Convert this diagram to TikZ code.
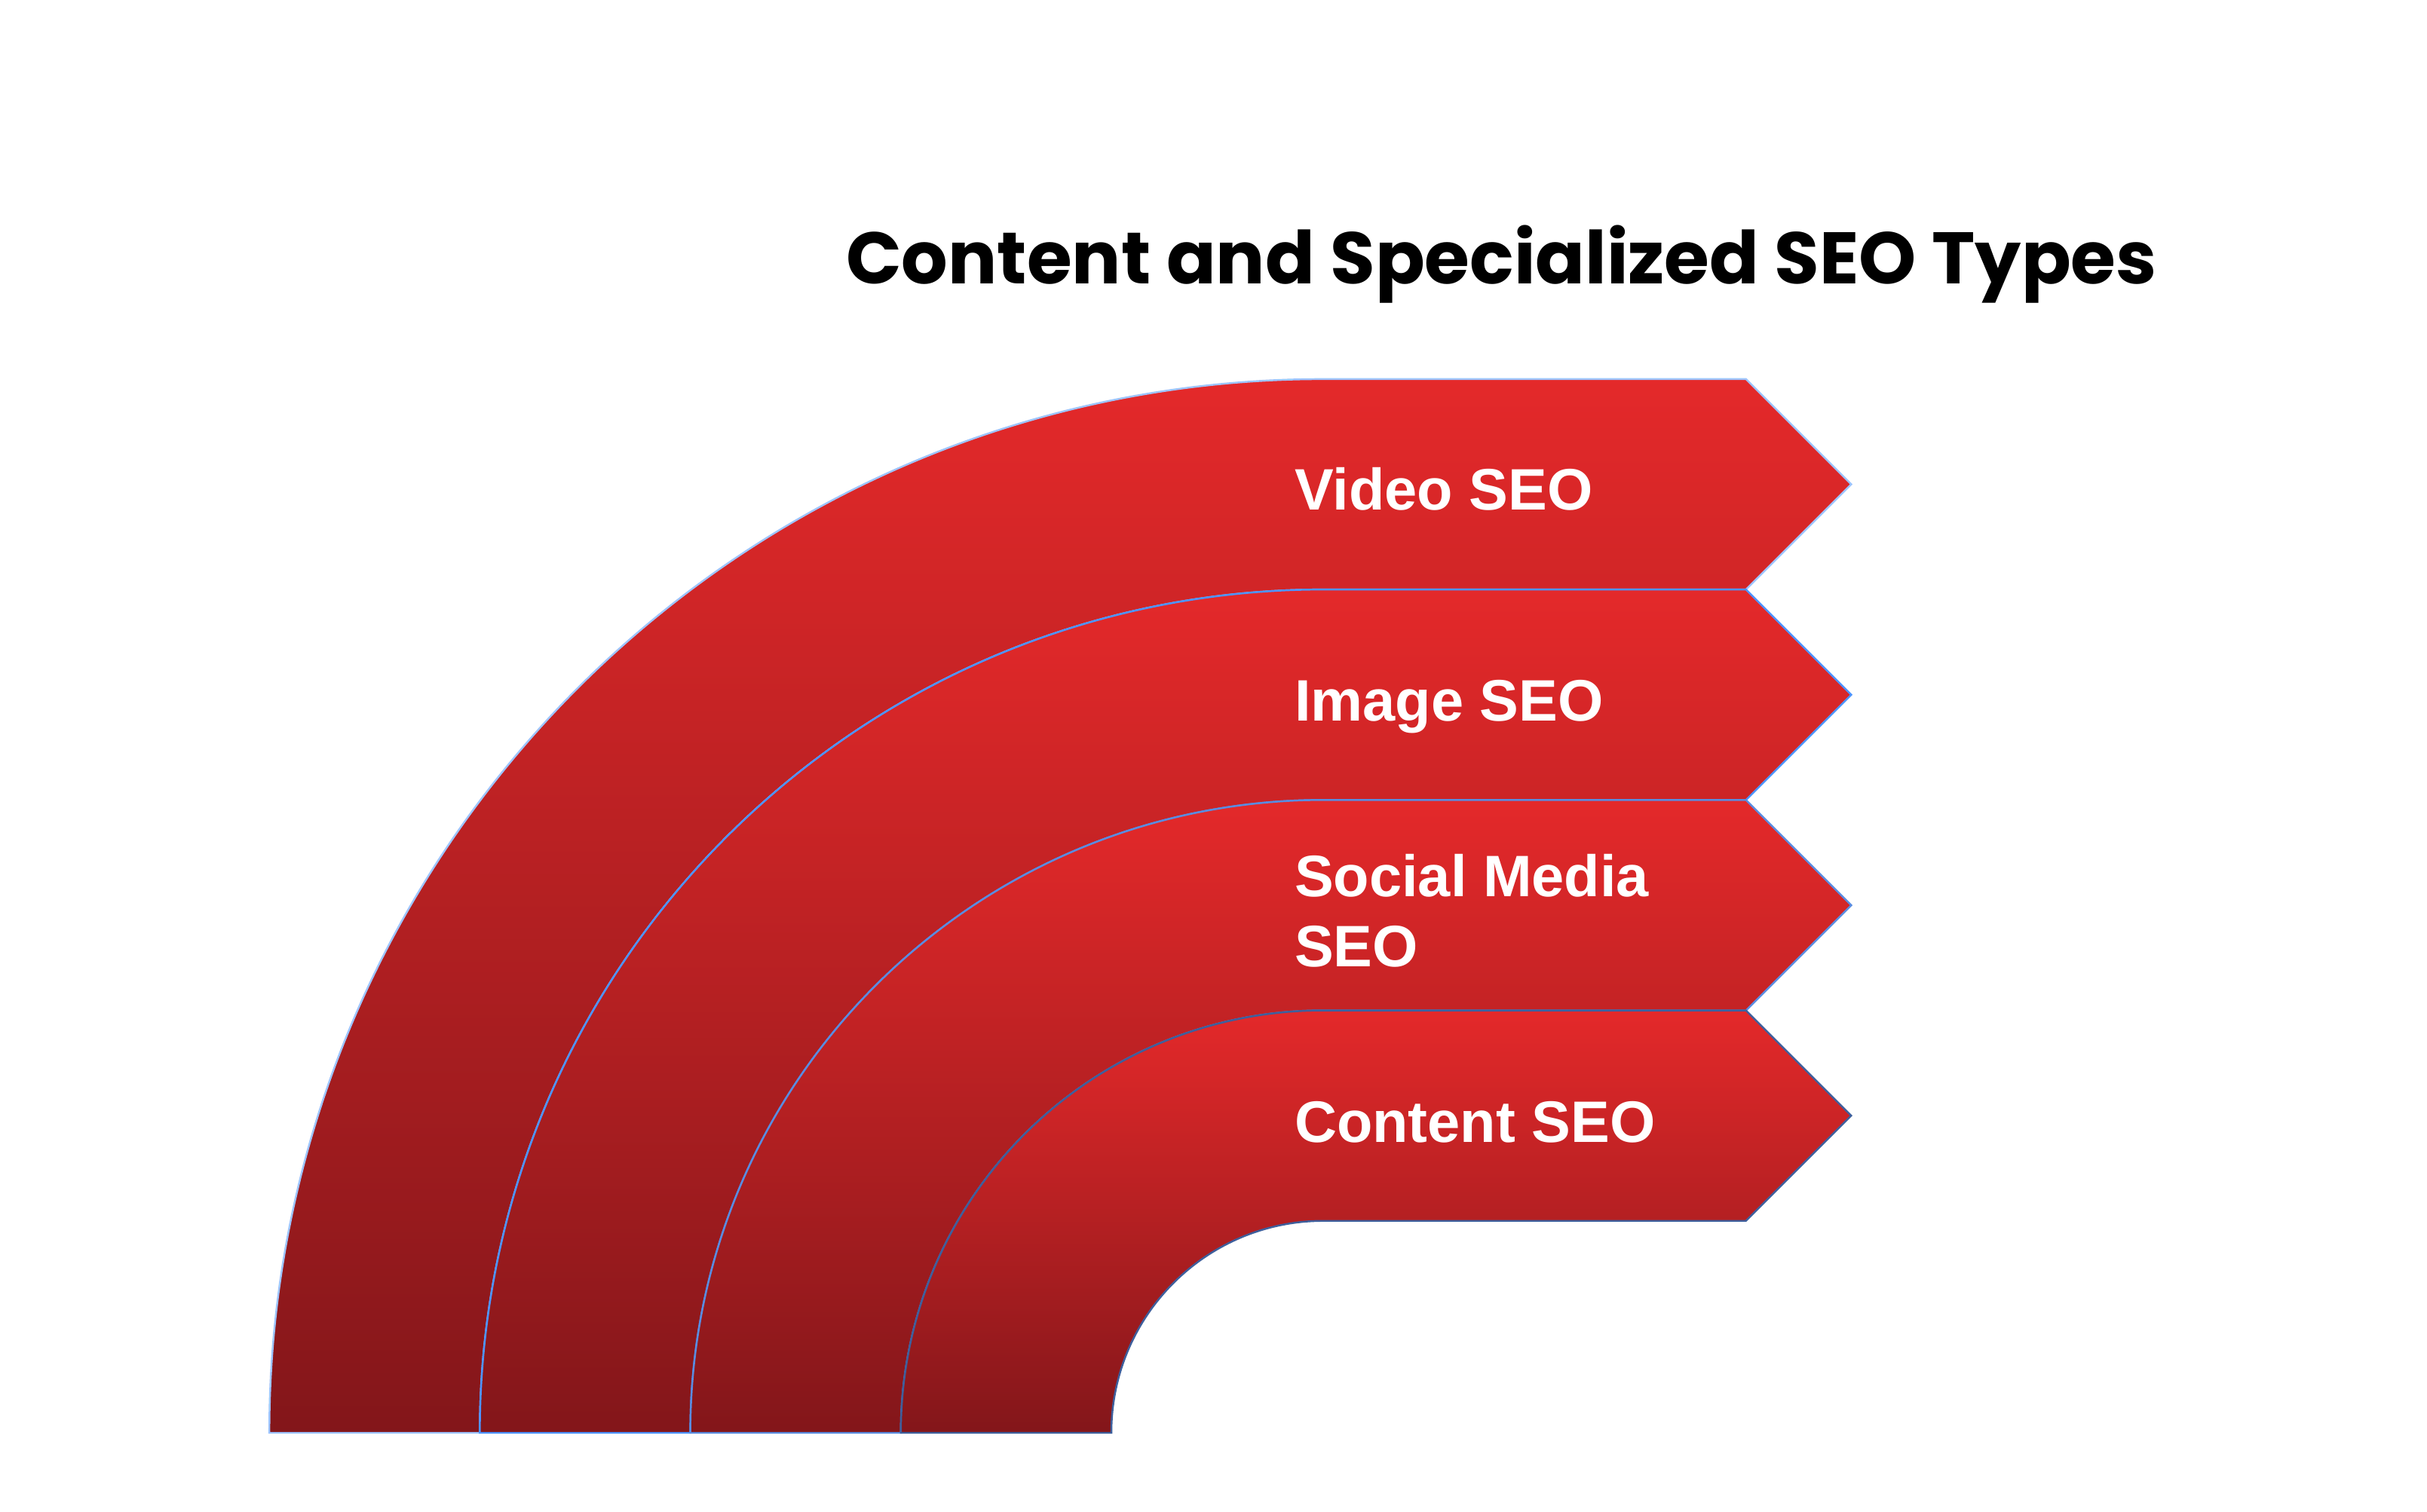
\documentclass[tikz,border=0pt]{standalone}
\usepackage{fontspec}
\setmainfont{Liberation Sans}
\newfontfamily\titlefont{Poppins}
\usetikzlibrary{positioning}

\definecolor{bandtop}{HTML}{E4292A}
\definecolor{bandbot}{HTML}{83161A}
\definecolor{edgeA}{HTML}{9EC5FF}
\definecolor{edgeB}{HTML}{4D94FF}
\definecolor{edgeC}{HTML}{5A8CE0}
\definecolor{edgeD}{HTML}{3E5F9C}

\begin{document}
\begin{tikzpicture}[
  x=0.5pt, y=0.5pt,
  band/.style={top color=bandtop, bottom color=bandbot, line width=0.6pt, line join=miter},
  lbl/.style={anchor=base west, inner sep=0pt, text=white, align=left,
    font=\bfseries\fontsize{18.9}{22.7}\selectfont}
]
\useasboundingbox (0,0) rectangle (1568,977);

\node[anchor=base, inner sep=0pt, font=\titlefont\bfseries\fontsize{23.6}{28}\selectfont] (title) at (970,793.5) {Content and Specialized SEO Types};

% bands, outer to inner
\foreach \R/\edge in {681/edgeA, 545/edgeB, 409/edgeC, 273/edgeD} {
  \pgfmathsetmacro\r{\R-136}
  \draw[band, draw=\edge] (855-\R,51) arc[start angle=180, end angle=90, radius=\R]
    -- (1128,51+\R) -- (1196,51+\R-68) -- (1128,51+\r) -- (855,51+\r)
    arc[start angle=90, end angle=180, radius=\r] -- cycle;
}

\node[lbl] (video) at (836,647.5) {Video SEO};
\node[lbl] (image) at (836,511.3) {Image SEO};
\node[lbl] (social) at (836,352.2) {Social Media\\SEO};
\node[lbl] (content) at (836,239) {Content SEO};
\end{tikzpicture}
\end{document}
